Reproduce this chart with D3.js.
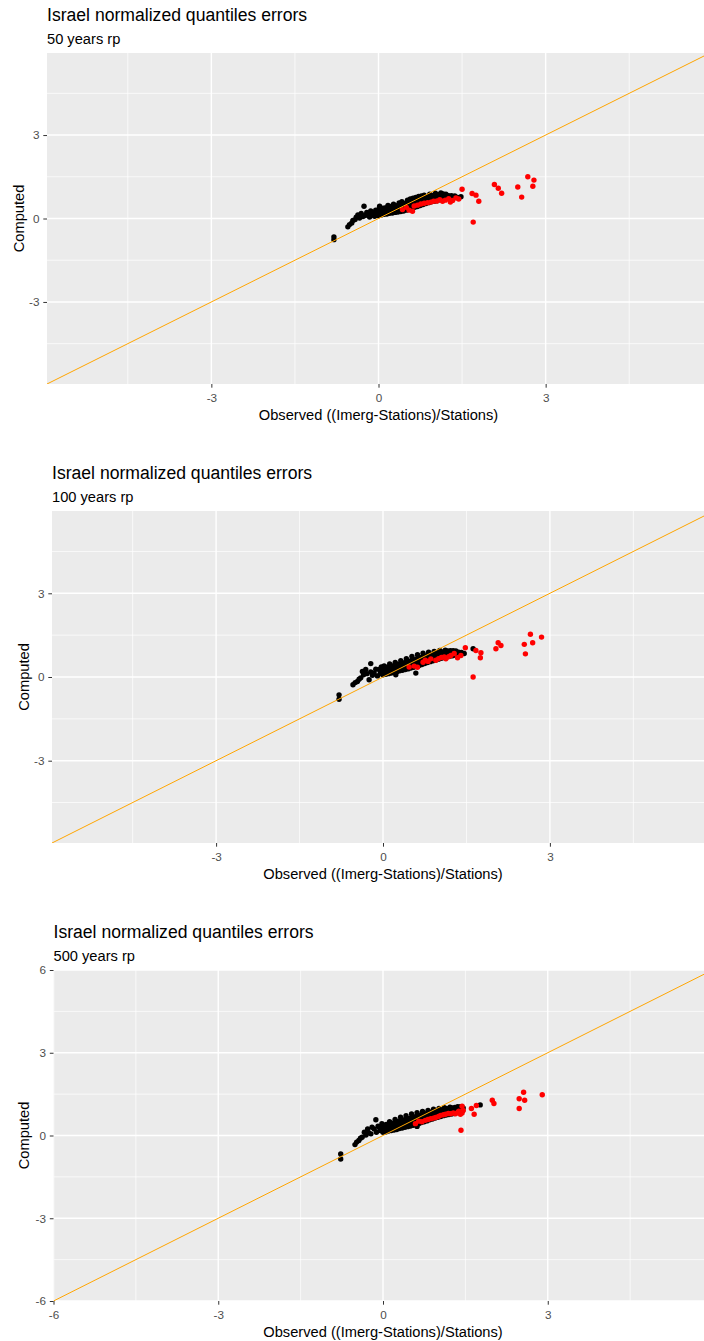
<!DOCTYPE html>
<html lang="en">
<head>
<meta charset="UTF-8" />
<title>Israel normalized quantiles errors</title>
<script src="https://d3js.org/d3.v7.min.js"></script>
<style>
  body { margin: 0; background: #fff; }
  svg { display: block; font-family: "Liberation Sans", Arial, sans-serif; }
</style>
</head>
<body>
<svg width="704" height="1341"></svg>
<script>
var title = 'Israel normalized quantiles errors'
var subtitles = ['50 years rp', '100 years rp', '500 years rp']
var xTitle = 'Observed ((Imerg-Stations)/Stations)'
var yTitle = 'Computed'
var majorTicks = [-6, -3, 0, 3, 6]
var minorTicks = [-4.5, -1.5, 1.5, 4.5]

// [observed, computed] pairs
var black50 = [
  [-0.80,-0.66],[-0.80,-0.76],[-0.55,-0.30],[-0.52,-0.22],[-0.48,-0.16],[-0.46,-0.07],[-0.42,-0.04],[-0.40,0.05],
  [-0.37,0.13],[-0.34,0.02],[-0.31,0.18],[-0.28,0.07],[-0.26,0.44],[-0.24,0.11],[-0.21,0.22],[-0.18,0.15],
  [-0.16,0.05],[-0.14,0.27],[-0.12,0.12],[-0.09,0.20],[-0.07,0.08],[-0.05,0.30],[-0.03,0.15],[-0.02,0.23],
  [0.00,0.10],[0.00,0.22],[0.01,0.34],[0.02,0.44],[0.05,0.13],[0.05,0.25],[0.06,0.37],
  [0.10,0.15],[0.10,0.27],[0.11,0.38],[0.15,0.16],[0.15,0.28],[0.16,0.40],[0.17,0.47],
  [0.20,0.19],[0.20,0.31],[0.21,0.43],[0.25,0.20],[0.25,0.32],[0.26,0.44],[0.27,0.51],
  [0.30,0.22],[0.30,0.34],[0.31,0.46],[0.35,0.23],[0.35,0.36],[0.36,0.48],[0.37,0.56],
  [0.40,0.25],[0.40,0.38],[0.41,0.50],[0.42,0.60],[0.45,0.27],[0.45,0.40],[0.46,0.53],
  [0.50,0.30],[0.50,0.43],[0.51,0.56],[0.52,0.66],[0.55,0.33],[0.55,0.46],[0.56,0.59],[0.57,0.70],
  [0.60,0.36],[0.60,0.49],[0.61,0.62],[0.62,0.73],[0.65,0.40],[0.65,0.52],[0.66,0.65],[0.67,0.76],
  [0.70,0.43],[0.70,0.56],[0.71,0.68],[0.72,0.79],[0.75,0.47],[0.75,0.59],[0.76,0.71],[0.77,0.81],
  [0.80,0.50],[0.80,0.62],[0.81,0.74],[0.82,0.84],[0.85,0.54],[0.85,0.66],[0.86,0.78],
  [0.90,0.57],[0.90,0.68],[0.91,0.80],[0.92,0.87],[0.95,0.60],[0.95,0.71],[0.96,0.82],
  [1.00,0.62],[1.00,0.73],[1.01,0.85],[1.02,0.91],[1.05,0.64],[1.05,0.75],[1.06,0.86],
  [1.10,0.67],[1.10,0.77],[1.11,0.87],[1.12,0.92],[1.15,0.69],[1.15,0.79],[1.16,0.88],
  [1.20,0.71],[1.20,0.80],[1.21,0.87],[1.25,0.73],[1.26,0.82],[1.30,0.74],[1.31,0.82],
  [1.36,0.76],[1.37,0.81],[1.42,0.76],[1.48,0.78]
]
var red50 = [
  [0.43,0.32],[0.50,0.40],[0.55,0.30],[0.61,0.26],[0.64,0.45],[0.70,0.48],[0.76,0.52],[0.82,0.55],
  [0.88,0.57],[0.94,0.59],[0.99,0.62],[1.05,0.63],[1.10,0.68],[1.15,0.62],[1.20,0.66],[1.26,0.71],
  [1.29,0.59],[1.33,0.65],[1.39,0.74],[1.44,0.70],[1.50,1.05],[1.68,0.90],[1.75,0.84],[1.80,0.62],
  [1.70,-0.13],[2.08,1.22],[2.15,1.09],[2.21,0.91],[2.50,1.13],[2.57,0.77],[2.68,1.50],[2.79,1.38],[2.77,1.16]
]

var black100 = [
  [-0.79,-0.64],[-0.79,-0.80],[-0.54,-0.28],[-0.50,-0.20],[-0.46,-0.16],[-0.43,-0.08],[-0.40,-0.03],[-0.37,0.20],
  [-0.35,0.08],[-0.31,0.27],[-0.29,0.12],[-0.25,-0.10],[-0.22,0.48],[-0.22,0.18],[-0.19,0.06],[-0.16,0.14],
  [-0.13,0.28],[-0.10,0.04],[-0.07,0.27],[-0.05,0.12],[-0.03,0.36],[-0.02,0.20],
  [0.00,0.08],[0.00,0.20],[0.01,0.32],[0.02,0.40],[0.05,0.10],[0.05,0.22],[0.06,0.35],
  [0.10,0.12],[0.10,0.24],[0.11,0.36],[0.12,0.47],[0.15,0.14],[0.15,0.27],[0.16,0.40],
  [0.20,0.17],[0.20,0.29],[0.21,0.41],[0.22,0.52],[0.25,0.19],[0.25,0.32],[0.26,0.45],
  [0.30,0.22],[0.30,0.35],[0.31,0.47],[0.32,0.58],[0.35,0.24],[0.35,0.37],[0.36,0.50],
  [0.40,0.27],[0.40,0.40],[0.41,0.53],[0.42,0.66],[0.45,0.29],[0.45,0.42],[0.46,0.56],
  [0.50,0.32],[0.50,0.45],[0.51,0.59],[0.52,0.74],[0.55,0.35],[0.55,0.48],[0.56,0.62],
  [0.60,0.38],[0.60,0.51],[0.61,0.65],[0.62,0.80],[0.65,0.41],[0.65,0.55],[0.66,0.69],
  [0.70,0.45],[0.70,0.58],[0.71,0.72],[0.72,0.85],[0.75,0.48],[0.75,0.62],[0.76,0.75],
  [0.80,0.52],[0.80,0.65],[0.81,0.78],[0.82,0.89],[0.85,0.55],[0.85,0.68],[0.86,0.81],
  [0.90,0.58],[0.90,0.70],[0.91,0.83],[0.92,0.92],[0.95,0.61],[0.95,0.73],[0.96,0.86],
  [1.00,0.64],[1.00,0.76],[1.01,0.88],[1.02,0.95],[1.05,0.67],[1.05,0.79],[1.06,0.90],
  [1.10,0.70],[1.10,0.81],[1.11,0.92],[1.12,0.96],[1.15,0.72],[1.15,0.83],[1.16,0.93],
  [1.20,0.74],[1.20,0.85],[1.21,0.94],[1.25,0.76],[1.25,0.86],[1.26,0.94],
  [1.30,0.78],[1.30,0.88],[1.31,0.93],[1.35,0.80],[1.36,0.89],[1.40,0.82],[1.41,0.88],
  [1.46,0.84],[1.62,1.01],[0.23,0.08],[0.59,0.14]
]
var red100 = [
  [0.47,0.36],[0.56,0.39],[0.62,0.35],[0.72,0.53],[0.76,0.60],[0.81,0.56],[0.86,0.65],[0.95,0.60],
  [1.00,0.66],[1.05,0.70],[1.10,0.72],[1.13,0.65],[1.18,0.73],[1.22,0.77],[1.28,0.84],[1.34,0.69],
  [1.40,0.77],[1.48,1.05],[1.67,0.95],[1.76,0.87],[1.75,0.69],[1.62,0.00],[2.03,1.01],[2.07,1.23],
  [2.12,1.13],[2.54,1.17],[2.56,0.83],[2.65,1.53],[2.69,1.23],[2.85,1.43]
]

var black500 = [
  [-0.77,-0.67],[-0.77,-0.85],[-0.51,-0.33],[-0.48,-0.24],[-0.44,-0.18],[-0.41,-0.10],[-0.38,-0.06],[-0.34,0.12],
  [-0.31,0.02],[-0.28,0.24],[-0.26,0.10],[-0.22,0.06],[-0.20,0.30],[-0.16,0.24],[-0.13,0.57],[-0.12,0.12],
  [-0.09,0.34],[-0.07,0.30],[-0.05,0.18],[-0.02,0.43],
  [0.00,0.12],[0.00,0.24],[0.01,0.36],[0.05,0.13],[0.05,0.26],[0.06,0.40],
  [0.10,0.16],[0.10,0.28],[0.11,0.40],[0.12,0.50],[0.15,0.18],[0.15,0.31],[0.16,0.44],
  [0.20,0.20],[0.20,0.33],[0.21,0.46],[0.22,0.58],[0.25,0.22],[0.25,0.36],[0.26,0.50],
  [0.30,0.25],[0.30,0.38],[0.31,0.52],[0.32,0.66],[0.35,0.27],[0.35,0.41],[0.36,0.56],
  [0.40,0.30],[0.40,0.44],[0.41,0.58],[0.42,0.72],[0.45,0.32],[0.45,0.46],[0.46,0.61],
  [0.50,0.34],[0.50,0.49],[0.51,0.64],[0.52,0.78],[0.55,0.37],[0.55,0.52],[0.56,0.67],
  [0.60,0.40],[0.60,0.55],[0.61,0.70],[0.62,0.83],[0.65,0.43],[0.65,0.58],[0.66,0.73],
  [0.70,0.47],[0.70,0.61],[0.71,0.75],[0.72,0.87],[0.75,0.50],[0.75,0.64],[0.76,0.78],
  [0.80,0.53],[0.80,0.67],[0.81,0.81],[0.82,0.91],[0.85,0.57],[0.85,0.70],[0.86,0.84],
  [0.90,0.60],[0.90,0.73],[0.91,0.86],[0.92,0.95],[0.95,0.63],[0.95,0.76],[0.96,0.89],
  [1.00,0.66],[1.00,0.79],[1.01,0.91],[1.02,0.98],[1.05,0.69],[1.05,0.81],[1.06,0.93],
  [1.10,0.72],[1.10,0.84],[1.11,0.95],[1.12,1.01],[1.15,0.74],[1.15,0.86],[1.16,0.97],
  [1.20,0.76],[1.20,0.88],[1.21,0.98],[1.22,1.03],[1.25,0.78],[1.25,0.90],[1.26,1.00],
  [1.30,0.80],[1.30,0.92],[1.31,1.02],[1.35,0.83],[1.35,0.94],[1.36,1.04],
  [1.40,0.85],[1.40,0.96],[1.41,1.04],[1.45,0.90],[1.46,1.00],[1.77,1.11],[0.62,0.33]
]
var red500 = [
  [0.59,0.43],[0.65,0.52],[0.71,0.50],[0.77,0.55],[0.82,0.58],[0.87,0.61],[0.92,0.63],[0.96,0.65],
  [1.01,0.69],[1.05,0.73],[1.10,0.75],[1.14,0.77],[1.19,0.80],[1.23,0.79],[1.28,0.82],[1.32,0.79],
  [1.36,0.84],[1.38,0.88],[1.41,0.77],[1.44,0.82],[1.46,0.91],[1.44,1.06],[1.42,0.19],[1.61,0.98],
  [1.70,1.09],[1.66,0.77],[1.99,1.28],[2.02,1.16],[2.48,1.33],[2.56,1.57],[2.58,1.28],[2.48,0.98],[2.90,1.48]
]

var panels = [
  { sub: subtitles[0], black: black50, red: red50, lim: 5.95, left: 47, right: 710, top: 53, bottom: 384, yTitleX: 23.5 },
  { sub: subtitles[1], black: black100, red: red100, lim: 5.95, left: 52, right: 714, top: 511, bottom: 843, yTitleX: 28.5 },
  { sub: subtitles[2], black: black500, red: red500, lim: 6, left: 53.5, right: 712.5, top: 970, bottom: 1301, yTitleX: 28.5 }
]

var svg = d3.select('svg')
var svgWidth = +svg.attr('width')

function drawPanel(p, i) {
  var x = d3.scaleLinear().domain([-p.lim, p.lim]).range([p.left, p.right])
  var y = d3.scaleLinear().domain([-p.lim, p.lim]).range([p.bottom, p.top])
  var inside = function(v) { return v >= -p.lim && v <= p.lim }
  var major = majorTicks.filter(inside)
  var minor = minorTicks.filter(inside)
  // the right end of the plot is cut off by the picture edge
  var xMajor = major.filter(function(t) { return x(t) < svgWidth - 4 })

  var g = svg.append('g')

  // titles
  g.append('text').attr('x', p.left).attr('y', p.top - 32)
    .attr('font-size', 17.6).attr('fill', '#000').text(title)
  g.append('text').attr('x', p.left).attr('y', p.top - 9.5)
    .attr('font-size', 14.67).attr('fill', '#000').text(p.sub)

  var clipId = 'clip' + i
  g.append('clipPath').attr('id', clipId).append('rect')
    .attr('x', p.left).attr('y', p.top)
    .attr('width', p.right - p.left).attr('height', p.bottom - p.top)

  g.append('rect')
    .attr('x', p.left).attr('y', p.top)
    .attr('width', p.right - p.left).attr('height', p.bottom - p.top)
    .attr('fill', '#EBEBEB')

  var grid = g.append('g').attr('clip-path', 'url(#' + clipId + ')').attr('stroke', '#fff')
  minor.forEach(function(t) {
    grid.append('line').attr('x1', x(t)).attr('x2', x(t)).attr('y1', p.top).attr('y2', p.bottom).attr('stroke-width', 0.7)
    grid.append('line').attr('y1', y(t)).attr('y2', y(t)).attr('x1', p.left).attr('x2', p.right).attr('stroke-width', 0.7)
  })
  major.forEach(function(t) {
    grid.append('line').attr('x1', x(t)).attr('x2', x(t)).attr('y1', p.top).attr('y2', p.bottom).attr('stroke-width', 1.4)
    grid.append('line').attr('y1', y(t)).attr('y2', y(t)).attr('x1', p.left).attr('x2', p.right).attr('stroke-width', 1.4)
  })

  var marks = g.append('g').attr('clip-path', 'url(#' + clipId + ')')
  marks.selectAll('.b').data(p.black).enter().append('circle')
    .attr('cx', function(d) { return x(d[0]) })
    .attr('cy', function(d) { return y(d[1]) })
    .attr('r', 2.7).attr('fill', '#000')
  marks.selectAll('.r').data(p.red).enter().append('circle')
    .attr('cx', function(d) { return x(d[0]) })
    .attr('cy', function(d) { return y(d[1]) })
    .attr('r', 2.7).attr('fill', '#FF0000')
  marks.append('line')
    .attr('x1', x(-p.lim)).attr('y1', y(-p.lim))
    .attr('x2', x(p.lim)).attr('y2', y(p.lim))
    .attr('stroke', '#FFA500').attr('stroke-width', 1)

  // axes
  var xAxis = g.append('g').attr('transform', 'translate(0,' + p.bottom + ')')
    .call(d3.axisBottom(x).tickValues(xMajor).tickSize(3.7).tickPadding(6.2).tickFormat(function(d) { return String(d) }))
  var yAxis = g.append('g').attr('transform', 'translate(' + p.left + ',0)')
    .call(d3.axisLeft(y).tickValues(major).tickSize(3.7).tickPadding(3.8).tickFormat(function(d) { return String(d) }))
  ;[xAxis, yAxis].forEach(function(a) {
    a.select('.domain').remove()
    a.attr('font-family', null).attr('font-size', null)
    a.selectAll('.tick line').attr('stroke', '#333333').attr('stroke-width', 1)
    a.selectAll('.tick text').attr('fill', '#4D4D4D').attr('font-size', 11.7)
  })

  g.append('text')
    .attr('x', (p.left + p.right) / 2).attr('y', p.bottom + 35.5)
    .attr('text-anchor', 'middle').attr('font-size', 14.67).attr('fill', '#000')
    .text(xTitle)
  g.append('text')
    .attr('transform', 'translate(' + p.yTitleX + ',' + (p.top + p.bottom) / 2 + ') rotate(-90)')
    .attr('text-anchor', 'middle').attr('font-size', 14.67).attr('fill', '#000')
    .text(yTitle)
}

panels.forEach(drawPanel)
</script>
</body>
</html>
